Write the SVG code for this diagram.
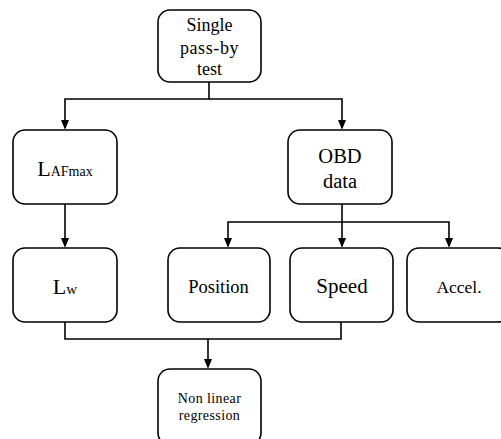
<svg xmlns="http://www.w3.org/2000/svg" width="501" height="439" viewBox="0 0 501 439">
<style>
.box{fill:#fff;stroke:#000;stroke-width:1.6}
.c{fill:none;stroke:#000;stroke-width:1.6}
.t{font-family:'Liberation Serif','Times New Roman',Times,serif;fill:#000;text-anchor:middle}
</style>
<defs>
<marker id="arr" markerWidth="10" markerHeight="12" refX="10" refY="5" orient="auto" markerUnits="userSpaceOnUse" viewBox="0 0 12 10">
<path d="M0,0 L12,5 L0,10 Z" fill="#000"/>
</marker>
</defs>
<rect width="501" height="439" fill="#fff"/>
<g id="connectors">
<path class="c" d="M209,82 V99 H65 V128" marker-end="url(#arr)"/>
<path class="c" d="M209,99 H342 V128" marker-end="url(#arr)"/>
<path class="c" d="M65,204 V246" marker-end="url(#arr)"/>
<path class="c" d="M342,204 V246" marker-end="url(#arr)"/>
<path class="c" d="M342,222 H228 V246" marker-end="url(#arr)"/>
<path class="c" d="M342,222 H449 V246" marker-end="url(#arr)"/>
<path class="c" d="M65,322 V339 H341 V322"/>
<path class="c" d="M208,339 V367" marker-end="url(#arr)"/>
</g>
<g id="n-single" class="t">
<rect class="box" x="158" y="10" width="103" height="72" rx="12"/>
<text x="209.5" y="31" font-size="18">Single</text>
<text x="209.5" y="54" font-size="18" letter-spacing="0.6">pass-by</text>
<text x="209.5" y="75" font-size="18">test</text>
</g>
<g id="n-lafmax" class="t">
<rect class="box" x="13" y="130" width="104" height="74" rx="12"/>
<text x="65" y="176"><tspan font-size="22">L</tspan><tspan font-size="14">AFmax</tspan></text>
</g>
<g id="n-obd" class="t">
<rect class="box" x="288" y="130" width="104" height="74" rx="12"/>
<text x="340" y="163" font-size="20.5">OBD</text>
<text x="340" y="188" font-size="20.5">data</text>
</g>
<g id="n-lw" class="t">
<rect class="box" x="13" y="248" width="104" height="74" rx="12"/>
<text x="65" y="294"><tspan font-size="22">L</tspan><tspan font-size="15">w</tspan></text>
</g>
<g id="n-position" class="t">
<rect class="box" x="168" y="248" width="102" height="74" rx="12"/>
<text x="218.5" y="293" font-size="18.5">Position</text>
</g>
<g id="n-speed" class="t">
<rect class="box" x="290" y="248" width="103" height="74" rx="12"/>
<text x="342" y="293" font-size="21">Speed</text>
</g>
<g id="n-accel" class="t">
<rect class="box" x="407" y="248" width="103" height="74" rx="12"/>
<text x="459" y="293" font-size="17.5">Accel.</text>
</g>
<g id="n-nonlinear" class="t">
<rect class="box" x="158" y="369" width="103" height="76" rx="12"/>
<text x="209.5" y="403" font-size="14" letter-spacing="0.4">Non linear</text>
<text x="209.5" y="420" font-size="14" letter-spacing="0.4">regression</text>
</g>
</svg>
